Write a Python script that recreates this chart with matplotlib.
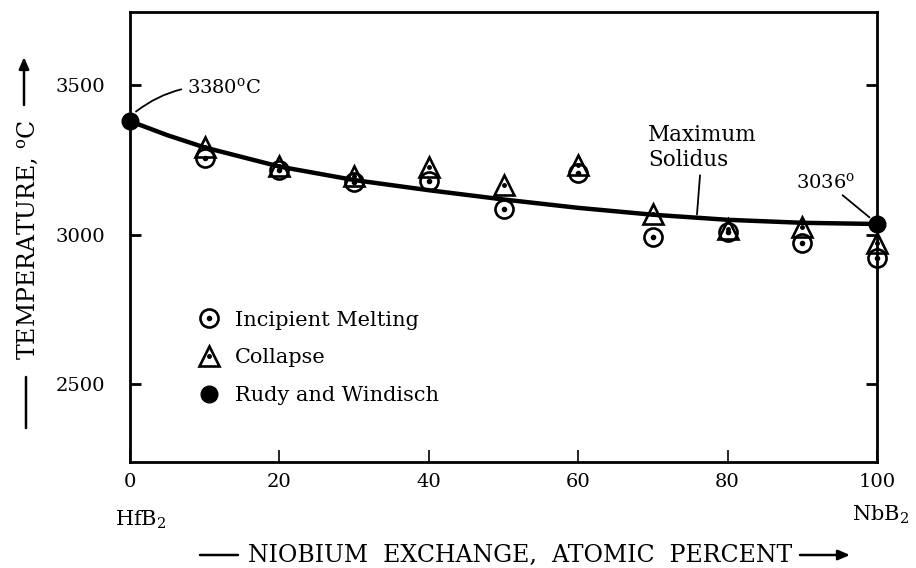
import numpy as np
import matplotlib
matplotlib.use('Agg')
import matplotlib.pyplot as plt
from matplotlib.lines import Line2D

plt.rcParams['font.family'] = ['DejaVu Serif']
plt.rcParams['mathtext.default'] = 'regular'

# composition, atomic percent Nb exchange
x_pct = [10, 20, 30, 40, 50, 60, 70, 80, 90, 100]
melting = [3257, 3217, 3175, 3180, 3085, 3205, 2993, 3010, 2971, 2922]    # incipient melting
collapse = [3292, 3230, 3198, 3226, 3165, 3233, 3070, 3019, 3027, 2974]   # collapse

# Rudy and Windisch end members
rw_x = [0, 100]
rw_t = [3380, 3036]

# maximum solidus curve
sol_x = [0, 5, 10, 20, 30, 40, 50, 60, 70, 80, 90, 100]
sol_t = [3380, 3333, 3292, 3228, 3183, 3149, 3118, 3090, 3067, 3050, 3040, 3036]

xticks = [0, 20, 40, 60, 80, 100]
yticks = [2500, 3000, 3500]

W, H = 916, 568
fig = plt.figure(figsize=(W / 100, H / 100), dpi=100)
ax = fig.add_axes([130 / W, 1 - 462 / H, 747 / W, 450 / H])

ax.plot(sol_x, sol_t, color='black', lw=3.2, solid_joinstyle='round',
        solid_capstyle='round', zorder=3)

ms_kw = dict(ls='none', color='black', clip_on=False)
ax.plot(x_pct, melting, marker='o', ms=13, mfc='none', mew=1.9, **ms_kw)
ax.plot(x_pct, melting, marker='o', ms=3, **ms_kw)
ax.plot(x_pct, collapse, marker='^', ms=14, mfc='none', mew=1.9, **ms_kw)
ax.plot(x_pct, collapse, marker='o', ms=2.5, **ms_kw)
ax.plot(rw_x, rw_t, marker='o', ms=12, zorder=4, **ms_kw)

ax.set_xlim(0, 100)
ax.set_ylim(2240, 3745)
ax.set_xticks(xticks)
ax.set_yticks(yticks)
for s in ax.spines.values():
    s.set_linewidth(2)
ax.tick_params(axis='y', direction='in', length=8, width=2, right=True,
               labelsize=14, pad=18)
ax.tick_params(axis='x', direction='in', length=9, width=1.2,
               labelsize=14, pad=8)

# legend
circ = (Line2D([], [], marker='o', ms=13, mfc='none', mew=1.9, color='black', ls='none'),
        Line2D([], [], marker='o', ms=3, color='black', ls='none'))
tri = (Line2D([], [], marker='^', ms=14, mfc='none', mew=1.9, color='black', ls='none'),
       Line2D([], [], marker='o', ms=2.5, color='black', ls='none'))
dot = Line2D([], [], marker='o', ms=12, color='black', ls='none')
ax.legend([circ, tri, dot], ['Incipient Melting', 'Collapse', 'Rudy and Windisch'],
          loc='upper left', bbox_to_anchor=(0.079, 0.355), borderaxespad=0,
          frameon=False, fontsize=15, handlelength=1.1, handletextpad=0.7,
          labelspacing=0.9)

# point labels
ax.annotate('3380$^{o}$C', xy=(0.8, 3412), xytext=(7.6, 3495),
            ha='left', va='center', fontsize=14, annotation_clip=False,
            arrowprops=dict(arrowstyle='-', lw=1.3, color='black',
                            connectionstyle='arc3,rad=0.2', shrinkA=2, shrinkB=0))
ax.annotate('3036$^{o}$', xy=(99.0, 3058), xytext=(89.2, 3178),
            ha='left', va='center', fontsize=14, annotation_clip=False,
            arrowprops=dict(arrowstyle='-', lw=1.3, color='black',
                            shrinkA=1, shrinkB=0))
ax.annotate('Maximum\nSolidus', xy=(75.9, 3068), xytext=(76.6, 3292),
            ha='center', va='center', multialignment='left', fontsize=15.5,
            linespacing=1.2,
            arrowprops=dict(arrowstyle='-', lw=1.3, color='black',
                            shrinkA=1, shrinkB=0))

# axis titles with their dash and arrow
fig.text(520 / W, 13 / H, 'NIOBIUM  EXCHANGE,  ATOMIC  PERCENT', ha='center',
         va='center', fontsize=17)
line_kw = dict(xycoords='figure pixels', textcoords='figure pixels',
               annotation_clip=False)
ax.annotate('', xy=(238, 13), xytext=(200, 13),
            arrowprops=dict(arrowstyle='-', lw=1.8, color='black',
                            shrinkA=0, shrinkB=0), **line_kw)
ax.annotate('', xy=(850, 13), xytext=(800, 13),
            arrowprops=dict(arrowstyle='-|>,head_length=0.7,head_width=0.3',
                            lw=1.8, color='black', shrinkA=0, shrinkB=0), **line_kw)

fig.text(28 / W, 1 - 240 / H, 'TEMPERATURE, $^{o}$C', ha='center', va='center',
         rotation=90, fontsize=17)
ax.annotate('', xy=(26, H - 377), xytext=(26, H - 428),
            arrowprops=dict(arrowstyle='-', lw=1.8, color='black',
                            shrinkA=0, shrinkB=0), **line_kw)
ax.annotate('', xy=(24, H - 57), xytext=(24, H - 105),
            arrowprops=dict(arrowstyle='-|>,head_length=0.7,head_width=0.3',
                            lw=1.8, color='black', shrinkA=0, shrinkB=0), **line_kw)

fig.text(115 / W, 1 - 520 / H, 'HfB$_{2}$', ha='left', va='center', fontsize=15)
fig.text(852 / W, 1 - 515 / H, 'NbB$_{2}$', ha='left', va='center', fontsize=15)

fig.savefig('out.png', dpi=100)
